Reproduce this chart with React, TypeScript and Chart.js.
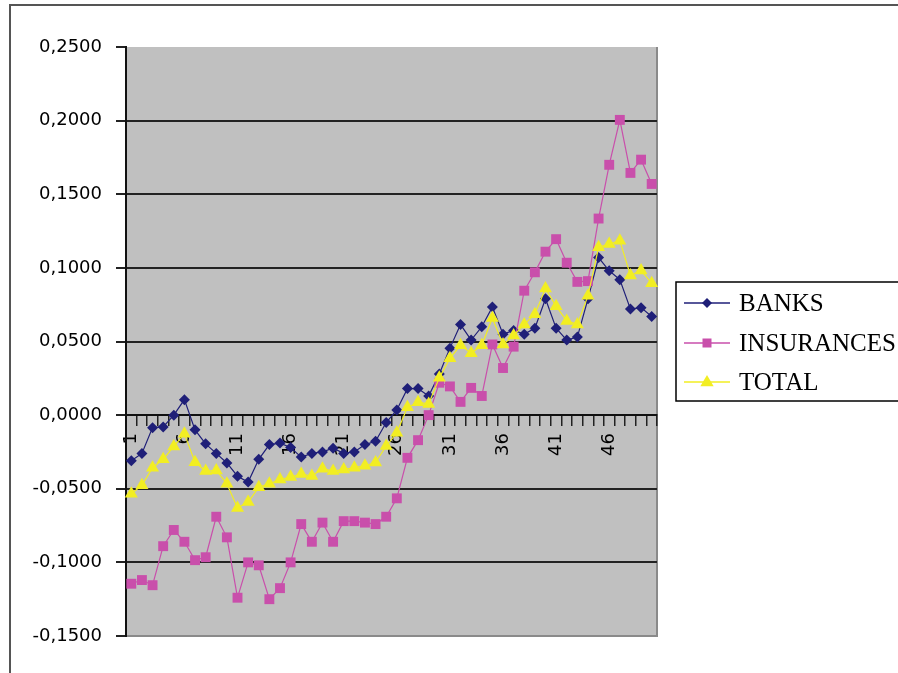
import React, { useEffect, useRef } from "react";
import { Chart, registerables } from "chart.js";

Chart.register(...registerables);

const CATEGORIES: string[] = [
  "1", "2", "3", "4", "5", "6", "7", "8", "9", "10",
  "11", "12", "13", "14", "15", "16", "17", "18", "19", "20",
  "21", "22", "23", "24", "25", "26", "27", "28", "29", "30",
  "31", "32", "33", "34", "35", "36", "37", "38", "39", "40",
  "41", "42", "43", "44", "45", "46", "47", "48", "49", "50",
];

const SHOWN_LABELS: string[] = ["1", "6", "11", "16", "21", "26", "31", "36", "41", "46"];

const BANKS: number[] = [
  -0.031, -0.026, -0.0085, -0.008, 0.0, 0.0105, -0.01, -0.0195, -0.026, -0.0325,
  -0.0415, -0.0455, -0.03, -0.02, -0.019, -0.022, -0.0285, -0.026, -0.025, -0.0225,
  -0.026, -0.025, -0.02, -0.0178, -0.005, 0.0035, 0.018, 0.018, 0.013, 0.028,
  0.0455, 0.0615, 0.051, 0.06, 0.0735, 0.055, 0.0575, 0.055, 0.059, 0.079,
  0.059, 0.051, 0.053, 0.079, 0.107, 0.098, 0.092, 0.072, 0.073, 0.067,
];

const INSURANCES: number[] = [
  -0.1145, -0.112, -0.1155, -0.089, -0.078, -0.086, -0.0985, -0.0965, -0.069, -0.083,
  -0.124, -0.1, -0.102, -0.125, -0.1175, -0.1, -0.074, -0.086, -0.073, -0.086,
  -0.072, -0.072, -0.073, -0.074, -0.069, -0.0565, -0.029, -0.017, 0.0, 0.022,
  0.0195, 0.009, 0.0185, 0.013, 0.048, 0.032, 0.0465, 0.0845, 0.097, 0.111,
  0.1195, 0.1035, 0.0905, 0.091, 0.1335, 0.17, 0.2005, 0.1645, 0.1735, 0.157,
];

const TOTAL: number[] = [
  -0.0534, -0.0477, -0.0357, -0.03, -0.0213, -0.0127, -0.032, -0.038, -0.0376, -0.0466,
  -0.063, -0.059, -0.049, -0.0466, -0.0437, -0.042, -0.04, -0.0414, -0.0364, -0.038,
  -0.037, -0.0357, -0.0344, -0.0322, -0.021, -0.012, 0.0053, 0.0087, 0.0076, 0.0253,
  0.0386, 0.0474, 0.042, 0.0474, 0.066, 0.048, 0.054, 0.0616, 0.0685, 0.086,
  0.074, 0.064, 0.0616, 0.081, 0.114, 0.1162, 0.1185, 0.0948, 0.0982, 0.0896,
];

const SERIES_NAMES: string[] = ["BANKS", "INSURANCES", "TOTAL"];

const Y_MIN = -0.15;
const Y_MAX = 0.25;
const Y_STEP = 0.05;

const NAVY = "#1f1f78";
const MAGENTA = "#c94fab";
const YELLOW = "#f2ee22";

const TICK_FONT = { family: "'DejaVu Sans', Verdana, sans-serif", size: 18 };

function fmtTick(v: number): string {
  let n = Number(v);
  if (Math.abs(n) < 1e-9) n = 0;
  return n.toFixed(4).replace(".", ",");
}

function drawMarker(ctx: CanvasRenderingContext2D, style: string, x: number, y: number, r: number, color: string) {
  ctx.save();
  ctx.fillStyle = color;
  ctx.beginPath();
  if (style === "rectRot") {
    ctx.moveTo(x - r, y);
    ctx.lineTo(x, y - r);
    ctx.lineTo(x + r, y);
    ctx.lineTo(x, y + r);
    ctx.closePath();
  } else if (style === "rect") {
    ctx.rect(x - r, y - r, 2 * r, 2 * r);
  } else {
    ctx.moveTo(x, y - r);
    ctx.lineTo(x + r * 0.95, y + r * 0.6);
    ctx.lineTo(x - r * 0.95, y + r * 0.6);
    ctx.closePath();
  }
  ctx.fill();
  ctx.restore();
}

const decorPlugin = {
  id: "excelDecor",
  beforeDraw(chart: any) {
    const { ctx, chartArea } = chart;
    ctx.save();
    ctx.fillStyle = "#ffffff";
    ctx.fillRect(0, 0, chart.width, chart.height);
    // outer frame (top and left)
    ctx.strokeStyle = "#555555";
    ctx.lineWidth = 2;
    ctx.beginPath();
    ctx.moveTo(10, chart.height + 2);
    ctx.lineTo(10, 5);
    ctx.lineTo(chart.width + 2, 5);
    ctx.stroke();
    // plot area
    ctx.fillStyle = "#c0c0c0";
    ctx.fillRect(chartArea.left, chartArea.top, chartArea.right - chartArea.left, chartArea.bottom - chartArea.top);
    ctx.strokeStyle = "#8a8a8a";
    ctx.lineWidth = 2;
    ctx.beginPath();
    ctx.moveTo(chartArea.right, chartArea.top);
    ctx.lineTo(chartArea.right, chartArea.bottom);
    ctx.lineTo(chartArea.left, chartArea.bottom);
    ctx.stroke();
    ctx.restore();
  },
  afterDraw(chart: any) {
    const { ctx } = chart;
    const boxLeft = 676;
    const boxTop = 282;
    const boxBottom = 401;
    ctx.save();
    ctx.fillStyle = "#ffffff";
    ctx.fillRect(boxLeft, boxTop, chart.width - boxLeft + 5, boxBottom - boxTop);
    ctx.strokeStyle = "#000000";
    ctx.lineWidth = 1.5;
    ctx.strokeRect(boxLeft, boxTop, chart.width - boxLeft + 5, boxBottom - boxTop);
    const rowsY = [303, 343, 382];
    chart.data.datasets.forEach((ds: any, i: number) => {
      const y = rowsY[i];
      ctx.strokeStyle = ds.borderColor;
      ctx.lineWidth = 1.5;
      ctx.beginPath();
      ctx.moveTo(684, y);
      ctx.lineTo(730, y);
      ctx.stroke();
      const r = ds.pointStyle === "triangle" ? 7 : ds.pointStyle === "rect" ? 4.5 : 5;
      drawMarker(ctx, ds.pointStyle, 707, y, r, ds.pointBackgroundColor);
      ctx.fillStyle = "#000000";
      ctx.font = "25px 'Liberation Serif', 'Times New Roman', serif";
      ctx.textAlign = "left";
      ctx.textBaseline = "middle";
      ctx.fillText(ds.label, 739, y + 1);
    });
    ctx.restore();
  },
};

export default function App() {
  const canvasRef = useRef<HTMLCanvasElement | null>(null);

  useEffect(() => {
    if (!canvasRef.current) return;
    const mk = (label: string, data: number[], color: string, style: string, radius: number, order: number) => ({
      label,
      data,
      borderColor: color,
      backgroundColor: color,
      pointBackgroundColor: color,
      pointBorderColor: color,
      pointBorderWidth: 0,
      pointStyle: style,
      pointRadius: radius,
      borderWidth: 1.2,
      tension: 0,
      fill: false,
      order,
    });

    const chart = new Chart(canvasRef.current, {
      type: "line",
      data: {
        labels: CATEGORIES,
        datasets: [
          mk(SERIES_NAMES[0], BANKS, NAVY, "rectRot", 5.5, 2),
          mk(SERIES_NAMES[1], INSURANCES, MAGENTA, "rect", 7, 1),
          mk(SERIES_NAMES[2], TOTAL, YELLOW, "triangle", 7.5, 0),
        ] as any,
      },
      options: {
        animation: false,
        responsive: false,
        maintainAspectRatio: false,
        layout: { padding: { top: 47, bottom: 37, left: 0, right: 241 } },
        plugins: {
          legend: { display: false },
          tooltip: { enabled: false },
        },
        scales: {
          x: {
            type: "category",
            position: { y: 0 } as any,
            offset: true,
            grid: {
              offset: true,
              drawOnChartArea: false,
              drawTicks: true,
              tickLength: 10,
              color: "#222222",
              lineWidth: 1.5,
            },
            border: { display: true, color: "#111111", width: 2 },
            ticks: {
              autoSkip: false,
              minRotation: 90,
              maxRotation: 90,
              padding: 8,
              color: "#000000",
              font: TICK_FONT,
              callback: (_v: any, i: number) => (SHOWN_LABELS.includes(CATEGORIES[i]) ? CATEGORIES[i] : ""),
            },
            afterFit: (s: any) => {
              s.height = 0;
            },
          } as any,
          y: {
            min: Y_MIN,
            max: Y_MAX,
            ticks: {
              stepSize: Y_STEP,
              padding: 14,
              color: "#000000",
              font: TICK_FONT,
              callback: (v: any) => fmtTick(v),
            },
            grid: {
              color: (c: any) => {
                const v = c.tick ? c.tick.value : 0;
                if (Math.abs(v - Y_MAX) < 1e-9 || Math.abs(v - Y_MIN) < 1e-9) return "rgba(0,0,0,0)";
                return "#222222";
              },
              tickColor: "#222222",
              tickLength: 10,
              lineWidth: 2,
            },
            border: { display: true, color: "#111111", width: 2 },
            afterFit: (s: any) => {
              s.width = 126;
            },
          } as any,
        },
      } as any,
      plugins: [decorPlugin],
    });
    return () => chart.destroy();
  }, []);

  return (
    <div style={{ position: "fixed", left: 0, top: 0, width: 898, height: 673, background: "#fff", overflow: "hidden" }}>
      <canvas ref={canvasRef} width={898} height={673} style={{ display: "block", width: 898, height: 673 }} />
    </div>
  );
}
